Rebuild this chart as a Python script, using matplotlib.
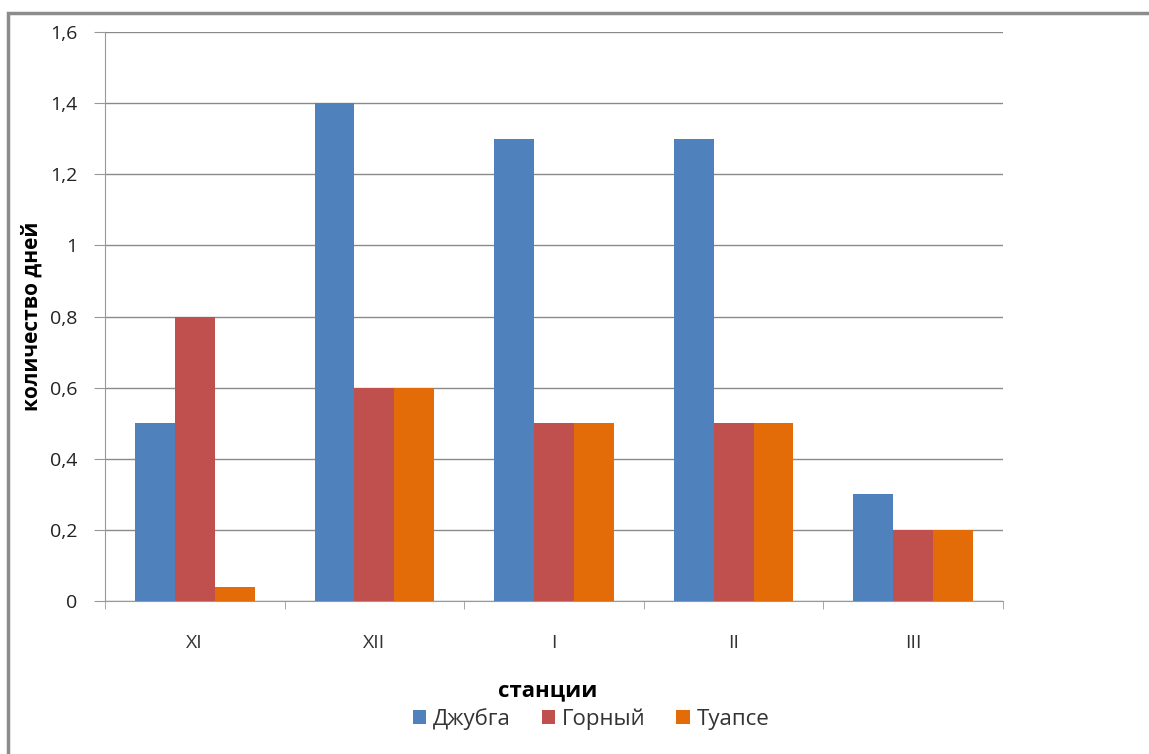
import matplotlib.pyplot as plt
import numpy as np
from matplotlib.patches import Rectangle

months = ['XI', 'XII', 'I', 'II', 'III']
dzhubga = [0.5, 1.4, 1.3, 1.3, 0.3]
gorny = [0.8, 0.6, 0.5, 0.5, 0.2]
tuapse = [0.04, 0.6, 0.5, 0.5, 0.2]
series = [('Джубга', dzhubga, '#4F81BD'),
          ('Горный', gorny, '#C0504D'),
          ('Туапсе', tuapse, '#E36C09')]

plt.rcParams['font.family'] = ['Open Sans', 'DejaVu Sans']

W, H = 1149, 754
fig = plt.figure(figsize=(W / 100, H / 100), dpi=100)
ax = fig.add_axes([105 / W, 1 - 601 / H, (1003 - 105) / W, (601 - 32) / H])

# outer frame of the chart area
fig.patches.append(Rectangle((8 / W, -0.05), 1.1, 1 - 13 / H + 0.05,
                             transform=fig.transFigure, fill=False,
                             edgecolor='#8c8c8c', linewidth=2.5))

x = np.arange(len(months))
width = 0.222
for i, (name, vals, color) in enumerate(series):
    ax.bar(x + (i - 1) * width, vals, width, color=color, label=name, zorder=3)

ax.set_xlim(-0.5, len(months) - 0.5)
ax.set_ylim(0, 1.6)
yt = np.arange(0, 1.61, 0.2)
ax.set_yticks(yt)
ax.set_yticklabels(['0' if v == 0 else ('1' if abs(v - 1) < 1e-9 else f'{v:.1f}'.replace('.', ','))
                    for v in yt], fontsize=14, color='#222222')
ax.set_xticks(x)
ax.set_xticklabels(months, fontsize=14, color='#333333')
ax.set_xticks(np.arange(-0.5, len(months)), minor=True)
ax.tick_params(axis='x', which='major', length=0, pad=24)
ax.tick_params(axis='x', which='minor', length=6, color='#999999')
ax.tick_params(axis='y', length=8, color='#999999', pad=12)

ax.grid(axis='y', color='#8a8a8a', linewidth=1, zorder=0)
for s in ['top', 'right']:
    ax.spines[s].set_visible(False)
for s in ['left', 'bottom']:
    ax.spines[s].set_color('#999999')

ax.set_ylabel('количество дней', fontsize=15, fontweight='bold')
ax.yaxis.set_label_coords(-0.069, 0.5)

fig.text(548 / W, 1 - 691 / H, 'станции', ha='center', va='center',
         fontsize=16, fontweight='bold')
fig.legend(loc='center', bbox_to_anchor=(591 / W, 1 - 719 / H), ncol=3,
           frameon=False, fontsize=16, handlelength=0.6, handleheight=0.6,
           handletextpad=0.3, columnspacing=1.4, labelcolor='#333333')

fig.savefig('out.png', dpi=100)
